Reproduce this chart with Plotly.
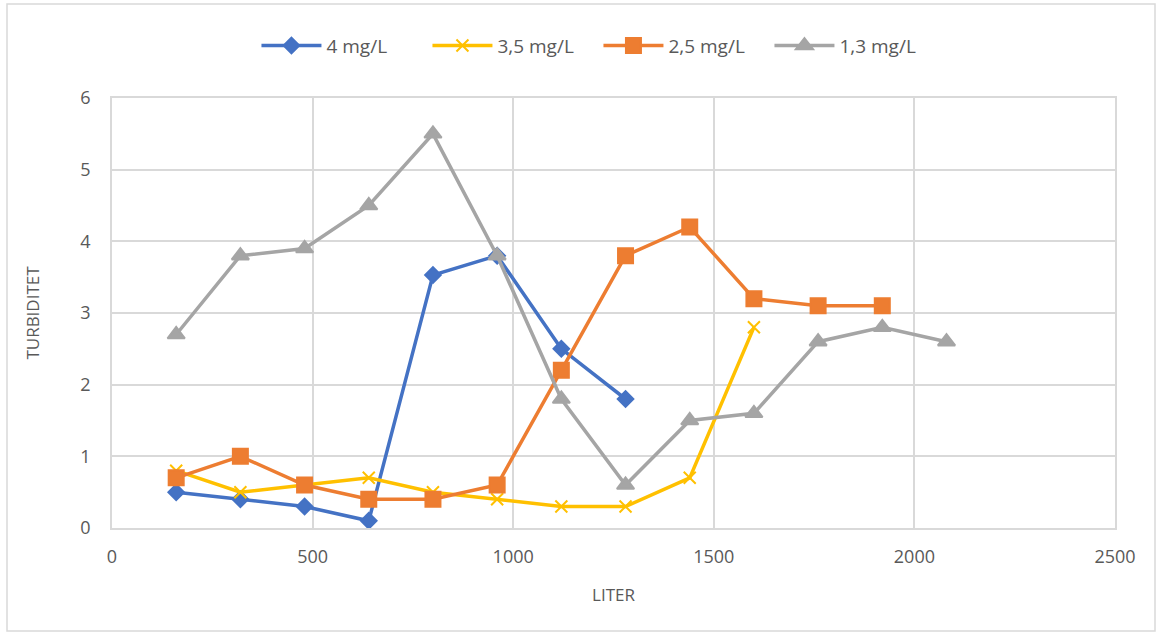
import plotly.graph_objects as go

liter = [160, 320, 480, 640, 800, 960, 1120, 1280, 1440, 1600, 1760, 1920, 2080]
s4 = [0.5, 0.4, 0.3, 0.1, 3.53, 3.8, 2.5, 1.8]
s35 = [0.8, 0.5, 0.6, 0.7, 0.5, 0.4, 0.3, 0.3, 0.7, 2.8]
s25 = [0.7, 1.0, 0.6, 0.4, 0.4, 0.6, 2.2, 3.8, 4.2, 3.2, 3.1, 3.1]
s13 = [2.7, 3.8, 3.9, 4.5, 5.5, 3.8, 1.8, 0.6, 1.5, 1.6, 2.6, 2.8, 2.6]
names = ["4 mg/L", "3,5 mg/L", "2,5 mg/L", "1,3 mg/L"]
colors = ["#4472C4", "#FFC000", "#ED7D31", "#A5A5A5"]
symbols = ["diamond", "x-thin", "square", "triangle-up"]
sizes = [12, 12, 15, 15]
series = [s4, s35, s25, s13]

fig = go.Figure()
for name, ys, c, sym, sz in zip(names, series, colors, symbols, sizes):
    fig.add_trace(go.Scatter(
        x=liter[:len(ys)], y=ys, name=name, mode="lines+markers",
        line=dict(color=c, width=3.5),
        marker=dict(symbol=sym, size=sz, color=c, line=dict(color=c, width=2)),
    ))

font = "Open Sans, Liberation Sans, sans-serif"
fig.update_layout(
    width=1160, height=636,
    margin=dict(l=112, r=45, t=98, b=108),
    paper_bgcolor="white", plot_bgcolor="white",
    font=dict(family=font, size=16, color="#595959"),
    showlegend=True,
    legend=dict(orientation="h", x=0.485, xanchor="center", y=0.958, yref="container",
                yanchor="top", font=dict(size=19, color="#595959"), traceorder="normal",
                itemwidth=60, entrywidth=96, entrywidthmode="pixels"),
    xaxis=dict(range=[0, 2500], dtick=500, showgrid=True, gridcolor="#D9D9D9", gridwidth=1.5,
               zeroline=False, showline=True, linecolor="#D9D9D9", linewidth=1.5,
               mirror=True, ticks="", tickfont=dict(size=18, color="#595959"),
               ticklabelstandoff=12,
               title=dict(text="LITER", font=dict(size=17, color="#595959"), standoff=22)),
    yaxis=dict(range=[0, 6], dtick=1, showgrid=True, gridcolor="#D9D9D9", gridwidth=1.5,
               zeroline=False, showline=True, linecolor="#D9D9D9", linewidth=1.5,
               mirror=True, ticks="", tickfont=dict(size=18, color="#595959"),
               ticklabelstandoff=16,
               title=dict(text="TURBIDITET", font=dict(size=17, color="#595959"), standoff=36)),
    shapes=[dict(type="rect", xref="paper", yref="paper",
                 x0=-105/1003, x1=1+40/1003, y0=-103/430, y1=1+94/430,
                 line=dict(color="#D9D9D9", width=1.5), fillcolor="rgba(0,0,0,0)")],
)
fig.write_html("out.html")
